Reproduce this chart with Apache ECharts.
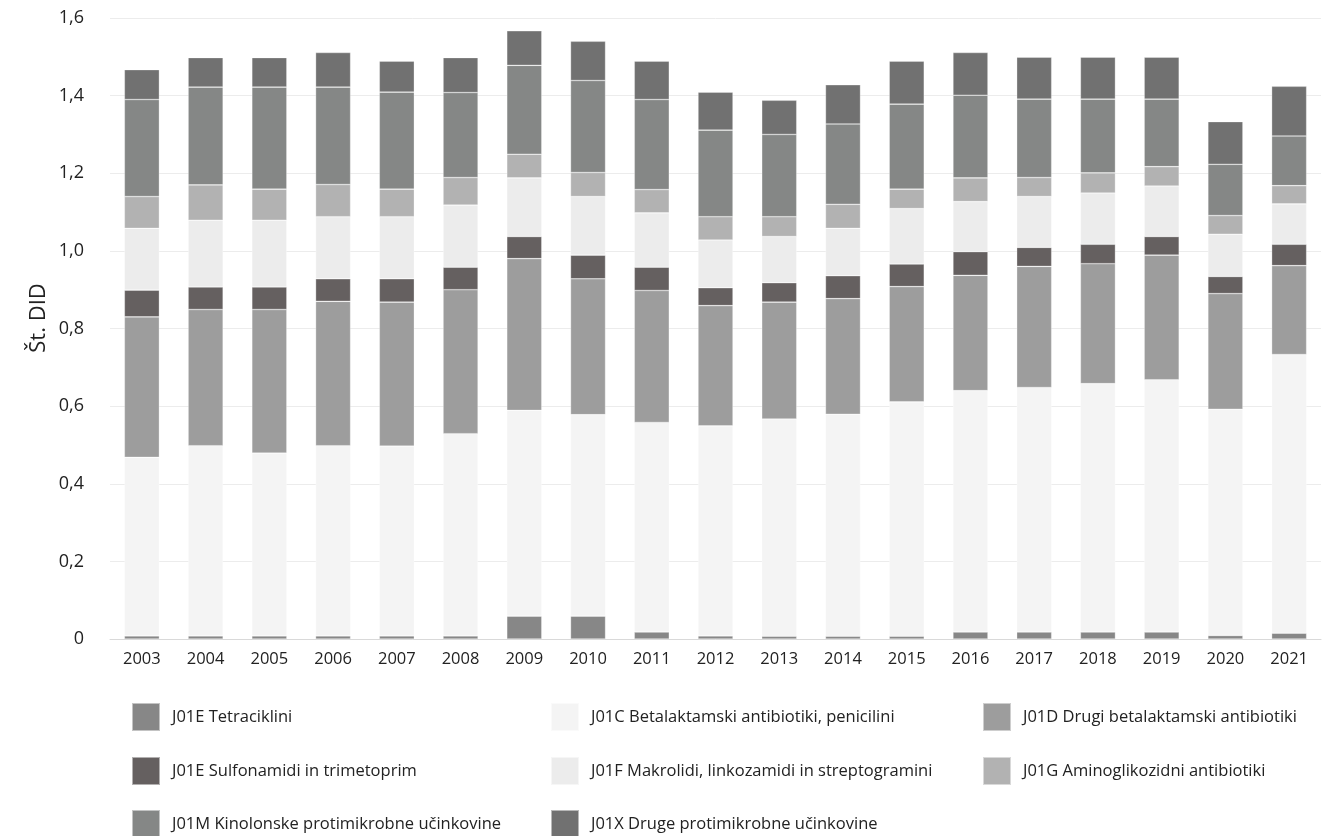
<!DOCTYPE html>
<html>
<head>
<meta charset="utf-8">
<script src="https://cdn.jsdelivr.net/npm/echarts@6/dist/echarts.min.js"></script>
<style>
html,body{margin:0;padding:0;background:#fff;}
#chart{width:1330px;height:836px;}
</style>
</head>
<body>
<div id="chart"></div>
<script>
const years = ['2003','2004','2005','2006','2007','2008','2009','2010','2011','2012','2013','2014','2015','2016','2017','2018','2019','2020','2021'];
const yTicks = [0, 0.2, 0.4, 0.6, 0.8, 1.0, 1.2, 1.4, 1.6];
const yTitle = 'Št. DID';

const seriesNames = [
  'J01E Tetraciklini',
  'J01C Betalaktamski antibiotiki, penicilini',
  'J01D Drugi betalaktamski antibiotiki',
  'J01E Sulfonamidi in trimetoprim',
  'J01F Makrolidi, linkozamidi in streptogramini',
  'J01G Aminoglikozidni antibiotiki',
  'J01M Kinolonske protimikrobne učinkovine',
  'J01X Druge protimikrobne učinkovine'
];

const tetraciklini = [0.008,0.008,0.008,0.008,0.008,0.008,0.059,0.059,0.018,0.008,0.007,0.007,0.007,0.018,0.018,0.018,0.018,0.009,0.015];
const penicilini   = [0.460,0.490,0.471,0.490,0.489,0.521,0.530,0.519,0.540,0.541,0.560,0.572,0.604,0.622,0.630,0.640,0.650,0.583,0.718];
const drugiBeta    = [0.362,0.351,0.370,0.372,0.371,0.371,0.391,0.350,0.340,0.310,0.301,0.298,0.297,0.297,0.312,0.309,0.321,0.298,0.229];
const sulfonamidi  = [0.069,0.058,0.058,0.058,0.060,0.058,0.057,0.061,0.060,0.046,0.050,0.059,0.058,0.061,0.049,0.050,0.048,0.044,0.055];
const makrolidi    = [0.159,0.172,0.172,0.160,0.160,0.160,0.151,0.151,0.140,0.123,0.119,0.122,0.143,0.129,0.131,0.132,0.130,0.109,0.104];
const aminoglik    = [0.082,0.091,0.080,0.083,0.071,0.071,0.061,0.062,0.060,0.060,0.051,0.062,0.050,0.061,0.049,0.052,0.050,0.048,0.047];
const kinoloni     = [0.250,0.252,0.263,0.251,0.250,0.219,0.229,0.237,0.232,0.223,0.212,0.207,0.219,0.213,0.202,0.190,0.174,0.132,0.128];
const druge        = [0.077,0.076,0.076,0.089,0.080,0.090,0.089,0.101,0.099,0.098,0.088,0.101,0.111,0.110,0.108,0.108,0.108,0.110,0.128];

const seriesData = [tetraciklini, penicilini, drugiBeta, sulfonamidi, makrolidi, aminoglik, kinoloni, druge];
const colors = ['#878787','#f4f4f4','#9d9d9d','#656060','#ececec','#b2b2b2','#858786','#717171'];

const chart = echarts.init(document.getElementById('chart'), null, {renderer:'canvas'});

const legendCols = [131, 550, 982];
const legendRows = [702, 756, 809];
const legends = seriesNames.map((n, i) => ({
  data: [n],
  left: legendCols[i % 3],
  top: legendRows[Math.floor(i / 3)],
  padding: 0,
  itemWidth: 28,
  itemHeight: 28,
  icon: 'rect',
  selectedMode: false,
  textStyle: {fontFamily: 'Open Sans', fontSize: 16.5, color: '#222', padding: [0,0,0,7]}
}));

chart.setOption({
  animation: false,
  backgroundColor: '#ffffff',
  color: colors,
  grid: {left: 110, right: 9, top: 18, bottom: 197},
  legend: legends,
  graphic: [{
    type: 'text',
    rotation: Math.PI / 2,
    x: 39, y: 318,
    style: {text: yTitle, font: '22px "Open Sans"', fill: '#222', textAlign: 'center', textVerticalAlign: 'middle'}
  }],
  xAxis: {
    type: 'category',
    data: years,
    axisLine: {lineStyle: {color: '#d9d9d9'}},
    axisTick: {show: false},
    axisLabel: {fontFamily: 'Open Sans', fontSize: 16.5, color: '#222', margin: 12}
  },
  yAxis: {
    type: 'value',
    min: yTicks[0],
    max: yTicks[yTicks.length - 1],
    interval: 0.2,
    axisLine: {show: false},
    axisTick: {show: false},
    splitLine: {lineStyle: {color: '#ececec', width: 1}},
    axisLabel: {
      fontFamily: 'Open Sans', fontSize: 18, color: '#222', margin: 26,
      formatter: v => v === 0 ? '0' : v.toFixed(1).replace('.', ',')
    }
  },
  series: seriesNames.map((n, i) => ({
    name: n,
    type: 'bar',
    stack: 'total',
    barWidth: 35,
    data: seriesData[i],
    itemStyle: {color: colors[i], borderColor: 'rgba(255,255,255,0.5)', borderWidth: 0.6}
  }))
});
</script>
</body>
</html>
